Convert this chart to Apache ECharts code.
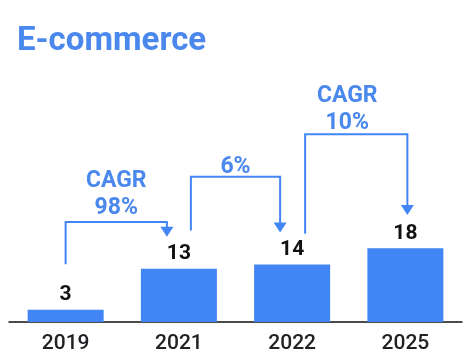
<!DOCTYPE html>
<html>
<head>
<meta charset="utf-8">
<script src="https://cdn.jsdelivr.net/npm/echarts@6/dist/echarts.min.js"></script>
<style>
  html, body { margin: 0; padding: 0; background: #fff; }
  #chart { width: 472px; height: 360px; }
</style>
</head>
<body>
<div id="chart"></div>
<script>
// ---- data ----
const categories = ['2019', '2021', '2022', '2025'];
const values = [3, 13, 14, 18];
const cagrLabels = ['CAGR\n98%', '6%', 'CAGR\n10%'];
const cagrFrom = [0, 1, 2];
const cagrTo = [1, 2, 3];

// ---- annotation layout (value-axis units / pixel offsets) ----
const arrowLayout = [
  { fromDx: 0,  startV: 14.1, topV: 24.4, toDx: -12, tipV: 20.8, textDx: 0,  textGap: 0 },
  { fromDx: 12, startV: 22.3, topV: 35.4, toDx: -12, tipV: 21.8, textDx: 0,  textGap: -4 },
  { fromDx: 13, startV: 21.5, topV: 45.8, toDx: 2,   tipV: 26.1, textDx: -9, textGap: -3 }
];

const BLUE = '#4285F4';
const TEXT_BLUE = '#4A88EE';
const FONT = 'Roboto, "Noto Sans", sans-serif';

const arrowData = cagrLabels.map((t, i) => [cagrFrom[i], cagrTo[i], i]);

const chart = echarts.init(document.getElementById('chart'), null, { renderer: 'canvas' });
chart.setOption({
  animation: false,
  title: {
    text: 'E-commerce',
    left: 12,
    top: 20,
    textStyle: { color: TEXT_BLUE, fontSize: 33, fontWeight: 'bold', fontFamily: FONT }
  },
  grid: { left: 9, right: 10, top: 240, bottom: 38 },
  xAxis: {
    type: 'category',
    data: categories,
    axisLine: { lineStyle: { color: '#111', width: 1.5 } },
    axisTick: { show: false },
    axisLabel: { color: '#202124', fontSize: 21, fontWeight: 500, fontFamily: FONT, margin: 11 }
  },
  yAxis: {
    type: 'value', min: 0, max: 20, interval: 5,
    show: false, splitLine: { show: false }
  },
  series: [
    {
      type: 'bar',
      data: values,
      barWidth: 76,
      itemStyle: { color: BLUE },
      label: {
        show: true, position: 'top', distance: 4,
        color: '#111', fontSize: 21, fontWeight: 'bold', fontFamily: FONT
      }
    },
    {
      type: 'custom',
      coordinateSystem: 'cartesian2d',
      clip: false,
      data: arrowData,
      renderItem: function (params, api) {
        const from = api.value(0), to = api.value(1), idx = api.value(2);
        const L = arrowLayout[idx];
        const x1 = api.coord([from, 0])[0] + L.fromDx;
        const x2 = api.coord([to, 0])[0] + L.toDx;
        const yStart = api.coord([from, L.startV])[1];
        const yTop = api.coord([from, L.topV])[1];
        const yTip = api.coord([to, L.tipV])[1];
        const headH = 10, headW = 6.5;
        return {
          type: 'group',
          children: [
            {
              type: 'polyline',
              shape: { points: [[x1, yStart], [x1, yTop], [x2, yTop], [x2, yTip - headH + 1]] },
              style: { stroke: BLUE, lineWidth: 2, fill: null }
            },
            {
              type: 'polygon',
              shape: { points: [[x2 - headW, yTip - headH], [x2 + headW, yTip - headH], [x2, yTip]] },
              style: { fill: BLUE }
            },
            {
              type: 'text',
              style: {
                text: cagrLabels[idx],
                x: (x1 + x2) / 2 + L.textDx,
                y: yTop - L.textGap,
                align: 'center',
                verticalAlign: 'bottom',
                fill: TEXT_BLUE,
                font: 'bold 23px ' + FONT,
                lineHeight: 27
              }
            }
          ]
        };
      }
    }
  ]
});
</script>
</body>
</html>
